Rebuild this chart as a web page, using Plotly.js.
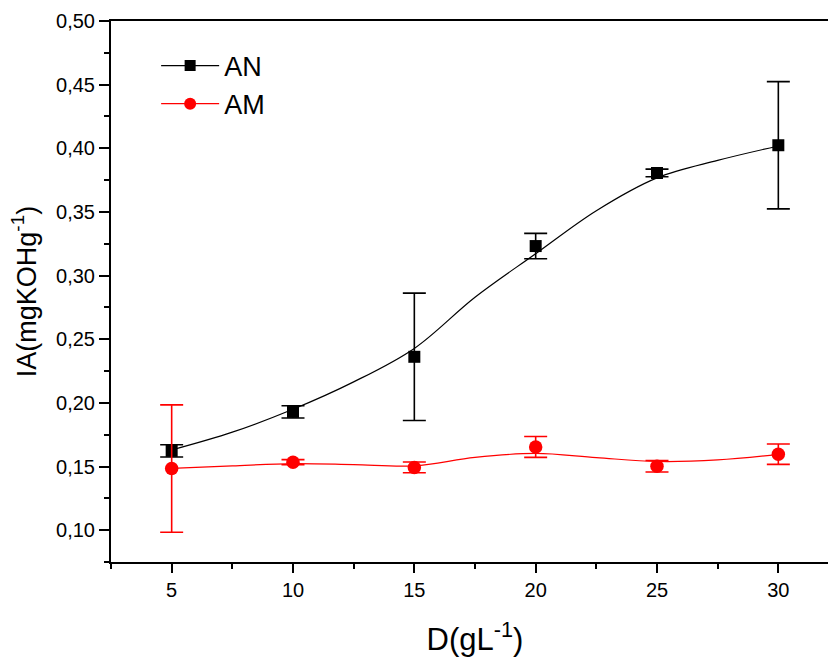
<!DOCTYPE html>
<html>
<head>
<meta charset="utf-8">
<script src="https://cdn.plot.ly/plotly-3.0.1.min.js"></script>
<style>
html, body { margin: 0; padding: 0; overflow: hidden; background: #fff; }
#chart { width: 849px; height: 660px; }
</style>
</head>
<body>
<div id="chart"></div>
<script>
// Measured data (D in g/L, IA in mgKOH/g)
const dose = [5, 10, 15, 20, 25, 30];
const anValues = [0.1623, 0.1929, 0.2362, 0.3232, 0.3806, 0.4024];
const anErrors = [0.0048, 0.0048, 0.0500, 0.0100, 0.0030, 0.0500];
const amValues = [0.1484, 0.1534, 0.1493, 0.1654, 0.1502, 0.1597];
const amErrors = [0.0500, 0.0020, 0.0042, 0.0082, 0.0045, 0.0080];

// Fitted curves
const fitX = [5, 7.5, 10, 12.5, 15, 17.5, 20, 22.5, 25, 27.5, 30];
const anFit = [0.1630, 0.1770, 0.1950, 0.2165, 0.2428, 0.2830, 0.3172, 0.3510, 0.3768, 0.3905, 0.4018];
const amFit = [0.1485, 0.1505, 0.1523, 0.1515, 0.1505, 0.1572, 0.1603, 0.1570, 0.1540, 0.1552, 0.1595];

const seriesNames = ['AN', 'AM'];
const xTitle = 'D(gL<sup>-1</sup>)';
const yTitle = 'IA(mgKOHg<sup>-1</sup>)';

const black = '#000000';
const red = '#ff0000';
const font = 'Liberation Sans, Arial, Helvetica, sans-serif';

const traces = [
  { x: fitX, y: anFit, mode: 'lines', line: { color: black, width: 1.2, shape: 'spline', smoothing: 1 },
    showlegend: false, hoverinfo: 'skip' },
  { x: fitX, y: amFit, mode: 'lines', line: { color: red, width: 1.2, shape: 'spline', smoothing: 1 },
    showlegend: false, hoverinfo: 'skip' },
  { x: dose, y: anValues, mode: 'markers', name: seriesNames[0],
    marker: { symbol: 'square', size: 12, color: black },
    error_y: { type: 'data', array: anErrors, visible: true, color: black, thickness: 1.6, width: 11.5 },
    showlegend: false },
  { x: dose, y: amValues, mode: 'markers', name: seriesNames[1],
    marker: { symbol: 'circle', size: 13.5, color: red },
    error_y: { type: 'data', array: amErrors, visible: true, color: red, thickness: 1.6, width: 11.5 },
    showlegend: false },
  // legend entries (line - marker - line, as in the original)
  { x: [null], y: [null], mode: 'lines+markers', name: seriesNames[0],
    line: { color: black, width: 1.2 }, marker: { symbol: 'square', size: 11, color: black } },
  { x: [null], y: [null], mode: 'lines+markers', name: seriesNames[1],
    line: { color: red, width: 1.2 }, marker: { symbol: 'circle', size: 12, color: red } }
];

const layout = {
  width: 849, height: 660,
  margin: { l: 111, r: 10, t: 21, b: 98 },
  paper_bgcolor: '#ffffff', plot_bgcolor: '#ffffff',
  separators: ',.',
  font: { family: font, color: black, size: 20 },
  showlegend: true,
  legend: {
    x: 0.062, y: 0.962, xanchor: 'left', yanchor: 'top',
    bgcolor: 'rgba(0,0,0,0)', borderwidth: 0,
    font: { family: font, size: 27, color: black },
    itemwidth: 58, tracegroupgap: 0
  },
  xaxis: {
    range: [2.5, 32.5], showgrid: false, zeroline: false,
    showline: true, linecolor: black, linewidth: 2, mirror: true,
    ticks: 'outside', tick0: 0, dtick: 5, ticklen: 9, tickwidth: 2, tickcolor: black,
    minor: { dtick: 2.5, tick0: 0, ticks: 'outside', ticklen: 5, tickwidth: 2, tickcolor: black },
    tickfont: { family: font, size: 20, color: black },
    title: { text: xTitle, font: { family: font, size: 31, color: black }, standoff: 28 },
    automargin: false
  },
  yaxis: {
    range: [0.075, 0.5], showgrid: false, zeroline: false,
    showline: true, linecolor: black, linewidth: 2, mirror: true,
    ticks: 'outside', tick0: 0, dtick: 0.05, ticklen: 10, tickwidth: 2, tickcolor: black,
    tickformat: '.2f',
    minor: { dtick: 0.025, tick0: 0, ticks: 'outside', ticklen: 5, tickwidth: 2, tickcolor: black },
    tickfont: { family: font, size: 20, color: black },
    title: { text: yTitle, font: { family: font, size: 27, color: black }, standoff: 12 },
    automargin: false
  }
};

Plotly.newPlot('chart', traces, layout, { staticPlot: true, displayModeBar: false });
</script>
</body>
</html>
